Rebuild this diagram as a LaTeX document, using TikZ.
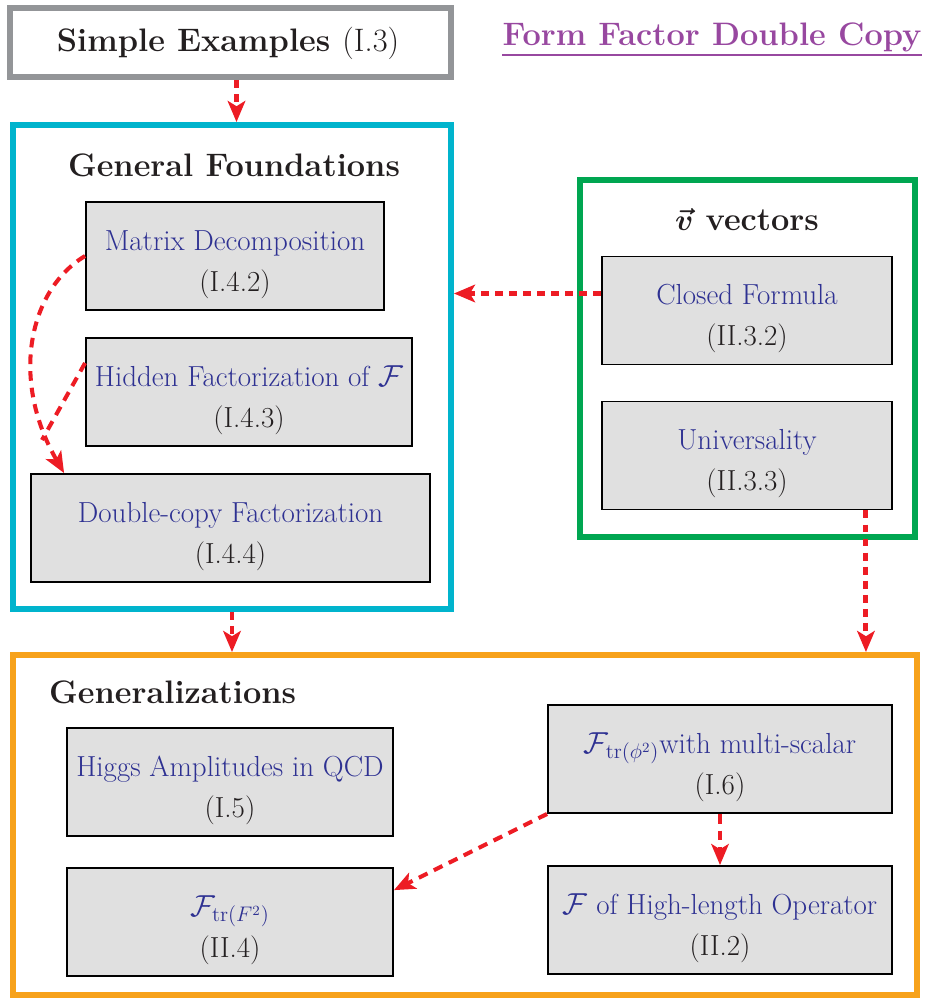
\documentclass[tikz,border=0pt]{standalone}
\usepackage{amsmath}
\usetikzlibrary{arrows.meta,calc}

\definecolor{frameGray}{RGB}{147,149,152}
\definecolor{frameCyan}{RGB}{0,180,205}
\definecolor{frameGreen}{RGB}{0,166,81}
\definecolor{frameOrange}{RGB}{247,162,27}
\definecolor{linkRed}{RGB}{237,28,36}
\definecolor{titlePurple}{RGB}{152,72,160}
\definecolor{textBlue}{RGB}{46,49,146}
\definecolor{textDark}{RGB}{35,31,32}
\definecolor{boxFill}{RGB}{224,224,224}

% topic name on top, section number below
\newcommand{\topictext}[2]{\rule{0pt}{21pt}#1\\ \textcolor{textDark}{(#2)}}

\begin{document}
\begin{tikzpicture}[x=0.02cm, y=-0.02cm,
  frame/.style={draw, line width=3.4pt, inner sep=0pt},
  topic/.style={draw=black, fill=boxFill, line width=1.1pt, minimum height=2.16cm,
    align=center, text=textBlue, font=\fontsize{16.5}{23.3}\selectfont},
  head/.style={text=textDark, font=\fontsize{18.5}{22}\selectfont\bfseries},
  link/.style={draw=linkRed, line width=2.8pt, dash pattern=on 4.5pt off 3.5pt,
    -{Stealth[length=12pt,width=10pt,inset=3pt]}},
  sublink/.style={link, line width=2.3pt, dash pattern=on 5.5pt off 4pt}]
  \useasboundingbox (0,0) rectangle (925,999);

  % frames
  \node[frame, draw=frameGray, minimum width=8.82cm, minimum height=1.38cm] (simple) at (230.5,42.5) {};
  \node[frame, draw=frameCyan, minimum width=8.76cm, minimum height=9.68cm] (found) at (232,367) {};
  \node[frame, draw=frameGreen, minimum width=6.7cm, minimum height=7.14cm] (vecs) at (747.5,358.5) {};
  \node[frame, draw=frameOrange, minimum width=18.08cm, minimum height=6.8cm] (gen) at (465,825) {};

  % headings
  \node[head] (simpletxt) at (228,43) {Simple Examples \mdseries(I.3)};
  \node[head, text=titlePurple, anchor=base, inner xsep=0pt] (title) at (712,46) {Form Factor Double Copy};
  \draw[titlePurple, line width=1.2pt] ($(title.base west)+(0,9)$) -- ($(title.base east)+(0,9)$);
  \node[head] (foundtxt) at (234,165) {General Foundations};
  \node[head] (vecstxt) at (747,220) {$\boldsymbol{\vec{v}}$ vectors};
  \node[head, anchor=west] (gentxt) at (43,692) {Generalizations};

  % general foundations
  \node[topic, minimum width=5.96cm] (matrix) at (235,256) {\topictext{Matrix Decomposition}{I.4.2}};
  \node[topic, minimum width=6.52cm] (hidden) at (249,392) {\topictext{Hidden Factorization of $\mathcal{F}$}{I.4.3}};
  \node[topic, minimum width=7.98cm] (double) at (230.5,528) {\topictext{Double-copy Factorization}{I.4.4}};

  % v vectors
  \node[topic, minimum width=5.8cm] (closed) at (747,310.5) {\topictext{Closed Formula}{II.3.2}};
  \node[topic, minimum width=5.8cm] (univ) at (747,455.5) {\topictext{Universality}{II.3.3}};

  % generalizations
  \node[topic, minimum width=6.52cm] (higgs) at (230,782) {\topictext{Higgs Amplitudes in QCD}{I.5}};
  \node[topic, minimum width=6.88cm] (fphi) at (720,759) {\topictext{$\mathcal{F}_{\mathrm{tr}(\phi^2)}$with multi-scalar}{I.6}};
  \node[topic, minimum width=6.52cm] (ftwo) at (230,922) {\topictext{$\mathcal{F}_{\mathrm{tr}(F^2)}$}{II.4}};
  \node[topic, minimum width=6.88cm] (fhigh) at (720,920) {\topictext{$\mathcal{F}$ of High-length Operator}{II.2}};

  % links
  \coordinate (merge) at (42,440);
  \coordinate (simpleout) at ($(simple.south)+(6,0)$);
  \coordinate (closedout) at ($(closed.west)+(0,-17)$);
  \coordinate (univout) at ($(univ.south east)+(-27,0)$);
  \coordinate (doublein) at ($(double.north west)+(34,0)$);
  \draw[link] (simpleout) -- (simpleout |- found.north);
  \draw[link] (found.south) -- (found.south |- gen.north);
  \draw[link] (closedout) -- (closedout -| found.east);
  \draw[link] (univout) -- (univout |- gen.north);
  \draw[sublink] (matrix.west) .. controls +(-55,33) and +(-55,-95) .. (doublein);
  \draw[sublink, -] ($(hidden.west)+(0,-29)$) -- (merge);
  \draw[sublink] (fphi.south west) -- (ftwo.11);
  \draw[sublink, line width=1.8pt] (fphi.south) -- (fhigh.north);
\end{tikzpicture}
\end{document}
